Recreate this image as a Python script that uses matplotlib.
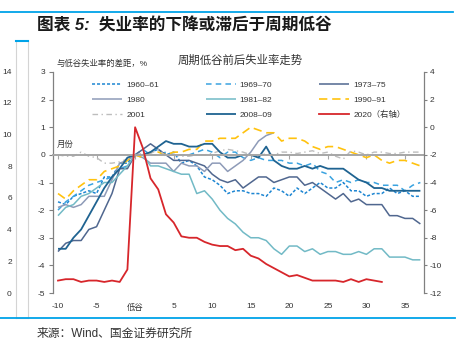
import matplotlib
matplotlib.use("Agg")
import matplotlib.pyplot as plt
from matplotlib.lines import Line2D

plt.rcParams['font.family'] = ['Liberation Sans', 'Noto Sans CJK SC']
plt.rcParams['axes.unicode_minus'] = False
plt.rcParams['lines.scale_dashes'] = False

# ---------------- data: unemployment gap vs. the cycle trough (pp) ----------------
months = list(range(-10, 38))
months_1980 = list(range(-10, 19))
months_2020 = list(range(-10, 33))

x_ticks = [-10, -5, 0, 5, 10, 15, 20, 25, 30, 35]
x_tick_labels = ['-10', '-5', '低谷', '5', '10', '15', '20', '25', '30', '35']

gap_1960 = [-1.7, -1.8, -1.5, -1.4, -1.3, -1.4, -0.8, -0.8, -0.3, -0.3, 0.0,
            0.0, 0.1, 0.2, 0.0, 0.1, -0.3, -0.2, -0.4, -0.8, -0.9, -1.1, -1.4, -1.3,
            -1.3, -1.4, -1.4, -1.5, -1.2, -1.3, -1.5, -1.2, -1.4, -1.2, -1.0, -1.2,
            -1.2, -1.0, -1.3, -1.3, -1.5, -1.4, -1.4, -1.2, -1.4, -1.3, -1.5, -1.5]
gap_1969 = [-2.0, -1.7, -1.5, -1.3, -1.1, -1.0, -0.9, -0.8, -0.5, -0.4, 0.0,
            0.2, 0.0, 0.0, 0.1, 0.0, 0.0, 0.0, 0.1, 0.2, 0.1, -0.1, 0.1, 0.1,
            -0.1, -0.2, -0.1, -0.2, -0.2, -0.2, -0.3, -0.3, -0.4, -0.3, -0.6, -0.7,
            -1.0, -0.9, -1.0, -0.9, -1.0, -1.0, -1.1, -1.1, -1.1, -1.3, -1.1, -1.0]
gap_1973 = [-3.5, -3.2, -3.1, -3.1, -2.7, -2.6, -2.0, -1.4, -0.5, -0.5, 0.0,
            0.2, 0.4, 0.2, 0.0, -0.2, -0.2, -0.2, -0.3, -0.4, -0.7, -0.9, -1.0, -0.9,
            -1.2, -1.0, -0.8, -0.8, -1.0, -0.9, -0.8, -0.8, -1.1, -1.0, -1.2, -1.4,
            -1.6, -1.4, -1.7, -1.6, -1.8, -1.8, -1.8, -2.2, -2.2, -2.3, -2.3, -2.5]
gap_1980 = [-1.9, -1.8, -1.9, -1.8, -1.5, -1.5, -1.5, -0.9, -0.3, -0.2, 0.0,
            -0.1, -0.3, -0.3, -0.3, -0.6, -0.3, -0.4, -0.4, -0.6, -0.3, -0.3, -0.6,
            -0.4, -0.2, 0.1, 0.5, 0.7, 0.8]
gap_1981 = [-2.2, -1.9, -1.8, -1.5, -1.4, -1.2, -1.0, -1.0, -0.7, -0.4, 0.0,
            0.0, -0.4, -0.4, -0.5, -0.6, -0.7, -0.7, -1.4, -1.3, -1.6, -2.0, -2.3, -2.5,
            -2.8, -3.0, -3.0, -3.1, -3.4, -3.6, -3.3, -3.3, -3.5, -3.4, -3.6, -3.5,
            -3.5, -3.6, -3.6, -3.5, -3.6, -3.4, -3.4, -3.7, -3.7, -3.7, -3.8, -3.8]
gap_1990 = [-1.4, -1.6, -1.3, -1.1, -0.9, -0.9, -0.6, -0.5, -0.4, -0.2, 0.0,
            -0.1, 0.1, 0.1, 0.0, 0.1, 0.1, 0.2, 0.2, 0.5, 0.5, 0.6, 0.6, 0.6,
            0.8, 1.0, 0.9, 0.8, 0.8, 0.5, 0.6, 0.6, 0.5, 0.3, 0.2, 0.3,
            0.3, 0.2, 0.1, 0.0, -0.1, 0.0, -0.2, -0.3, -0.2, -0.2, -0.3, -0.4]
gap_2001 = [0.0, -0.05, -0.05, 0.1, -0.05, -0.1, -0.3, -0.3, -0.25, -0.15, 0.0,
            0.05, 0.05, 0.2, -0.05, 0.0, -0.05, -0.05, 0.0, 0.0, 0.05, 0.15, 0.2, 0.15,
            0.1, 0.0, -0.05, 0.05, 0.0, 0.1, 0.1, 0.05, 0.1, 0.15, 0.05, 0.1,
            -0.05, -0.15, 0.15, 0.1, 0.0, 0.1, 0.1, 0.05, 0.05, 0.1, 0.1, 0.1]
gap_2008 = [-3.4, -3.4, -3.0, -2.7, -2.2, -1.7, -1.2, -0.8, -0.5, -0.1, 0.0,
            0.0, 0.1, 0.3, 0.5, 0.4, 0.4, 0.3, 0.3, 0.4, 0.4, 0.1, -0.1, -0.1,
            0.0, 0.0, -0.1, 0.3, -0.2, -0.4, -0.5, -0.5, -0.4, -0.5, -0.4, -0.5,
            -0.5, -0.5, -0.7, -0.9, -1.0, -1.2, -1.2, -1.3, -1.3, -1.3, -1.3, -1.3]
# 2020 is plotted against the right-hand axis
gap_2020 = [-11.1, -11.0, -11.0, -11.2, -11.1, -11.1, -11.2, -11.1, -11.2, -10.3, 0.0,
            -1.5, -3.7, -4.5, -6.3, -6.9, -7.9, -8.0, -8.0, -8.3, -8.5, -8.6, -8.6,
            -8.9, -8.8, -9.3, -9.5, -9.9, -10.2, -10.5, -10.8, -10.7, -10.9, -11.1,
            -11.1, -11.1, -11.1, -11.2, -11.0, -11.2, -11.0, -11.1, -11.2]

series_labels = ['1960–61', '1969–70', '1973–75', '1980', '1981–82',
                 '1990–91', '2001', '2008–09', '2020（右轴）']

# ---------------- figure layout (pixel helpers) ----------------
W, H = 460, 341
fig = plt.figure(figsize=(W / 100, H / 100), dpi=100)


def fx(px):
    return px / W


def fy(py):
    return 1 - py / H


RULE_BLUE = '#00A3E8'
SPINE = '#808080'
TXT = '#333333'

# neighbouring panel edge on the far left
gax = fig.add_axes([fx(16), fy(318), fx(28) - fx(16), fy(41) - fy(318)])
gax.set_ylim(-(318 - 293) / 15.857, (293 - 41) / 15.857)
gax.set_xlim(0, 1)
gax.set_yticks(range(0, 15, 2))
gax.tick_params(axis='y', length=0, pad=3, labelsize=6, labelcolor=TXT)
gax.set_xticks([])
for s in ['left', 'right', 'bottom']:
    gax.spines[s].set_color('#d4d4d4')
    gax.spines[s].set_linewidth(0.8)
gax.spines['top'].set_color(RULE_BLUE)
gax.spines['top'].set_linewidth(1.5)
gax.patch.set_alpha(0)

# main axes
ax = fig.add_axes([fx(53), fy(293), fx(424) - fx(53), fy(72) - fy(293)])
ax.set_xlim(-10.65, 37.47)
ax.set_ylim(-5, 3)
ax.patch.set_alpha(0)

styles = {
    '1960–61': dict(color='#1E86D2', lw=1.1, dashes=(2.2, 1.4)),
    '1969–70': dict(color='#3AA3E0', lw=1.1, dashes=(4.0, 3.0)),
    '1973–75': dict(color='#50678F', lw=1.1),
    '1980': dict(color='#8E9BB8', lw=1.1),
    '1981–82': dict(color='#72BAC6', lw=1.1),
    '1990–91': dict(color='#FFC20E', lw=1.2, dashes=(6.0, 3.5)),
    '2001': dict(color='#BDBDBD', lw=1.0, dashes=(4.0, 2.5, 1.0, 2.5)),
    '2008–09': dict(color='#1F6391', lw=1.3),
    '2020（右轴）': dict(color='#D7262B', lw=1.3),
}

left_data = [
    (months, gap_1960), (months, gap_1969), (months, gap_1973),
    (months_1980, gap_1980), (months, gap_1981), (months, gap_1990),
    (months, gap_2001), (months, gap_2008),
]
handles = []
for (xs, ys), name in zip(left_data, series_labels[:8]):
    h, = ax.plot(xs, ys, label=name, solid_capstyle='butt', **styles[name])
    handles.append(h)

ax2 = ax.twinx()
ax2.set_ylim(-12, 4)
h, = ax2.plot(months_2020, gap_2020, label=series_labels[8], **styles[series_labels[8]])
handles.append(h)

# spines and ticks
for s in ['top', 'right']:
    ax.spines[s].set_visible(False)
for s in ['top', 'left', 'bottom']:
    ax2.spines[s].set_visible(False)
ax.spines['left'].set_color(SPINE)
ax.spines['left'].set_linewidth(0.9)
ax2.spines['right'].set_color(SPINE)
ax2.spines['right'].set_linewidth(0.9)
ax.spines['bottom'].set_position(('data', 0))
ax.spines['bottom'].set_color('#A6A6A6')
ax.spines['bottom'].set_linewidth(1.4)

ax.set_yticks(range(-5, 4))
ax2.set_yticks(range(-12, 5, 2))
ax.tick_params(axis='y', direction='out', length=3, width=0.8, color=SPINE,
               pad=2.5, labelsize=6, labelcolor=TXT)
ax2.tick_params(axis='y', direction='out', length=2.5, width=0.8, color=SPINE,
                pad=1.5, labelsize=6, labelcolor=TXT)
ax.set_xticks(x_ticks)
ax.set_xticklabels(x_tick_labels)
ax.tick_params(axis='x', direction='out', length=3, width=0.8, color='#A6A6A6',
               pad=104, labelsize=6, labelcolor=TXT)

# legend, filled row by row (three entries per row)
ncol = 3
order = [r * ncol + c for c in range(ncol) for r in range(len(handles) // ncol)]
leg = ax2.legend(handles=[handles[i] for i in order], ncol=ncol, loc='upper left',
                 bbox_to_anchor=(fx(92), fy(81)), bbox_transform=fig.transFigure,
                 frameon=False, fontsize=6, handlelength=3.6, handletextpad=0.5,
                 columnspacing=5.6, labelspacing=0.85, borderpad=0, borderaxespad=0)
for t in leg.get_texts():
    t.set_color(TXT)

# texts
fig.text(fx(37), fy(25), '图表 5:  失业率的下降或滞后于周期低谷', fontsize=12,
         fontweight='bold', style='italic', color='#1a1a1a', va='center', ha='left')
fig.text(fx(240), fy(60), '周期低谷前后失业率走势', fontsize=8.2, color=TXT,
         va='center', ha='center')
fig.text(fx(57), fy(64), '与低谷失业率的差距，%', fontsize=6, color=TXT,
         va='center', ha='left')
fig.text(fx(57), fy(145), '月份', fontsize=6, color=TXT, va='center', ha='left')
fig.text(fx(37), fy(334), '来源：Wind、国金证券研究所', fontsize=8.5, color=TXT,
         va='center', ha='left')

# blue rules
fig.add_artist(Line2D([0, fx(453)], [fy(12), fy(12)], transform=fig.transFigure,
                      color=RULE_BLUE, lw=1.3))
fig.add_artist(Line2D([0, fx(455)], [fy(318), fy(318)], transform=fig.transFigure,
                      color=RULE_BLUE, lw=1.3))

fig.savefig('out.png', dpi=100)
